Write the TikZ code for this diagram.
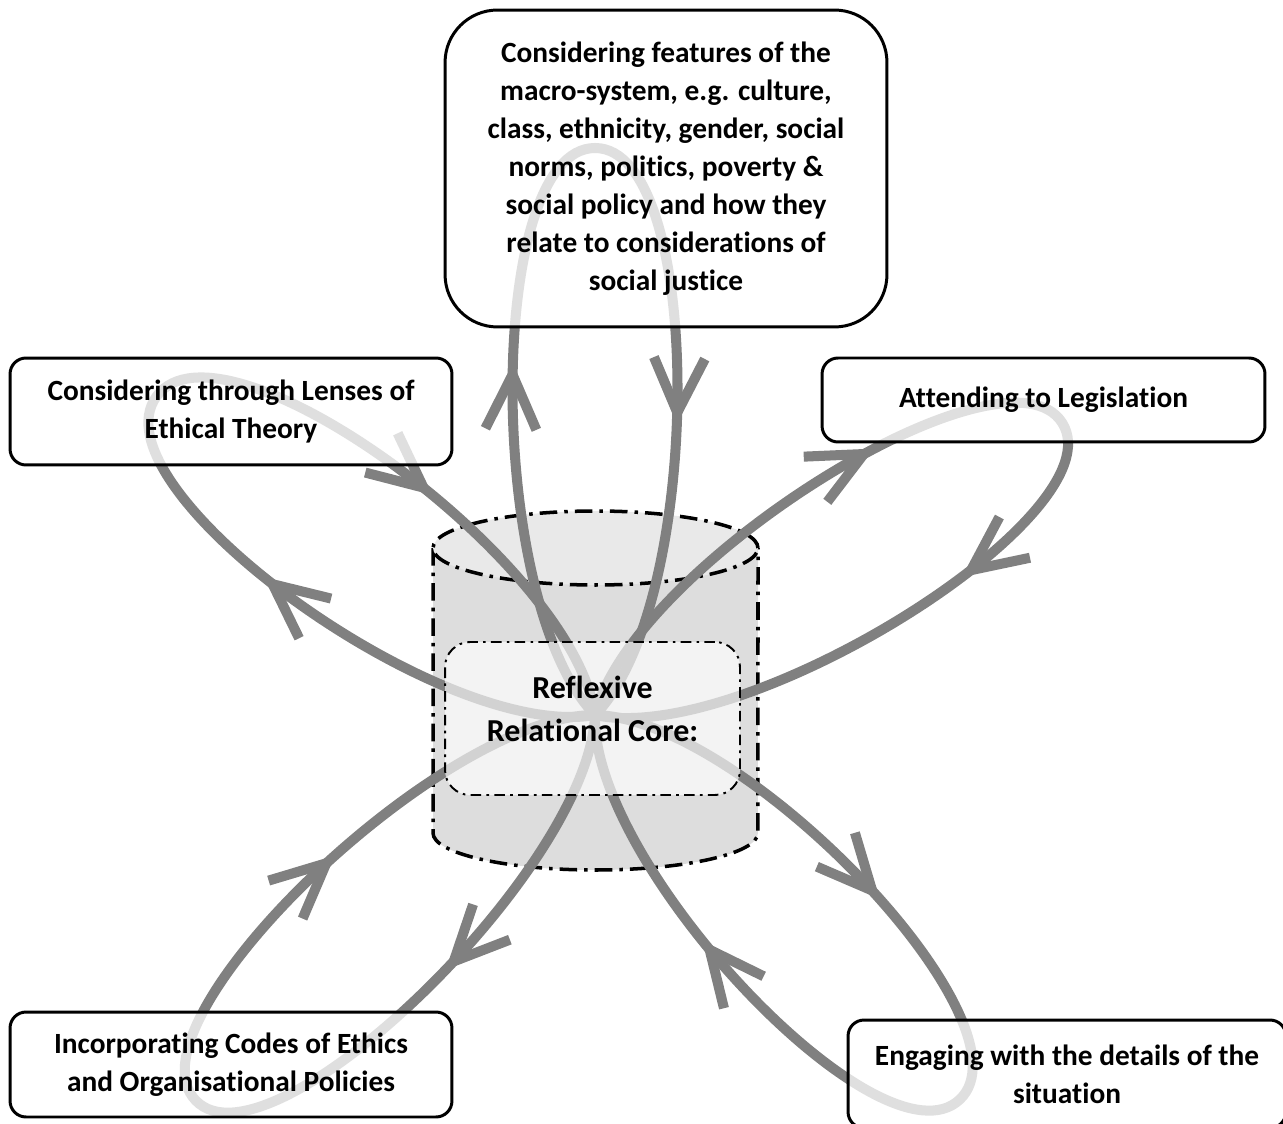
\documentclass[tikz,border=0pt]{standalone}
\usepackage{fontspec}
\setmainfont[Ligatures={NoCommon,NoRare,NoContextual}]{Carlito}
\usepackage{tikz}
\usetikzlibrary{arrows.meta, decorations.markings}
\definecolor{petalgray}{RGB}{128,128,128}
\definecolor{drumside}{RGB}{221,221,221}
\definecolor{drumtop}{RGB}{233,233,233}
\newcommand{\boxfont}{\fontsize{16.7}{21.6}\selectfont\bfseries}

\begin{document}
\begin{tikzpicture}[x=0.02cm, y=-0.02cm,
  every node/.style={font=\boxfont},
  stagebox/.style={draw, line width=1.7pt, rounded corners=0.32cm, fill=white,
    fill opacity=0.75, text opacity=1, align=center, inner sep=0pt},
  corebox/.style={draw, line width=1.1pt, dash pattern=on 6pt off 3pt on 1.5pt off 3pt,
    rounded corners=0.5cm, fill=white, fill opacity=0.65},
  rim/.style={line width=2pt, dash pattern=on 10pt off 4pt on 2pt off 4pt},
  petal/.style 2 args={color=petalgray, line width=5.7pt, postaction={decorate},
    decoration={markings,
      mark=at position #1 with {\arrow{Straight Barb[length=31pt, width=29pt, sharp]}},
      mark=at position #2 with {\arrow{Straight Barb[length=31pt, width=29pt, sharp]}}}}]

  \useasboundingbox (0,0) rectangle (1283,1124);

  % drum behind the core
  \fill[drumside] (433,548) -- (433,833)
    arc[start angle=180, end angle=360, x radius=3.25cm, y radius=0.74cm] -- (758,548) -- cycle;
  \draw[rim] (433,548) -- (433,833)
    arc[start angle=180, end angle=360, x radius=3.25cm, y radius=0.74cm] -- (758,548);
  \draw[rim, fill=drumtop] (595.5,548) ellipse [x radius=3.25cm, y radius=0.74cm];

  \coordinate (hub) at (595,715);

  % feedback petals, all turning clockwise
  \draw[petal={0.30}{0.75}, shift={(hub)}, rotate=90]
    (0,0) .. controls (113,-110) and (567,-110) .. (567,0) .. controls (567,110) and (113,110) .. cycle;
  \draw[petal={0.31}{0.765}, shift={(hub)}, rotate=144]
    (0,0) .. controls (108,-112) and (542,-112) .. (542,0) .. controls (542,112) and (108,112) .. cycle;
  \draw[petal={0.33}{0.665}, shift={(hub)}, rotate=32]
    (0,0) .. controls (110,-107) and (551,-107) .. (551,0) .. controls (551,107) and (110,107) .. cycle;
  \draw[petal={0.25}{0.75}, shift={(hub)}, rotate=224]
    (0,0) .. controls (111,-107) and (555,-107) .. (555,0) .. controls (555,107) and (111,107) .. cycle;
  \draw[petal={0.30}{0.78}, shift={(hub)}, rotate=313.5]
    (0,0) .. controls (106,-107) and (530,-107) .. (530,0) .. controls (530,107) and (106,107) .. cycle;

  % the five stages
  \node[stagebox, rounded corners=1.05cm, minimum width=8.84cm, minimum height=6.34cm] (macro) at (666,168.5)
    {Considering features of the\\macro-system, e.g. culture,\\class, ethnicity, gender, social\\norms, politics, poverty \&\\social policy and how they\\relate to considerations of\\social justice};
  \node[stagebox, minimum width=8.84cm, minimum height=2.14cm] (ethics) at (231,411.5)
    {Considering through Lenses of\\Ethical Theory};
  \node[stagebox, minimum width=8.86cm, minimum height=1.68cm] (legis) at (1043.5,400)
    {Attending to Legislation};
  \node[stagebox, minimum width=8.84cm, minimum height=2.1cm] (codes) at (231,1064.5)
    {Incorporating Codes of Ethics\\and Organisational Policies};
  \node[stagebox, minimum width=8.76cm, minimum height=2.16cm] (engage) at (1067,1074)
    {Engaging with the details of the\\situation};

  % core
  \node[corebox, minimum width=5.9cm, minimum height=3.06cm] (core) at (592.5,718.5) {};
  \node[align=center, font=\fontsize{18.2}{24.5}\selectfont\bfseries] (corelabel)
    at ([yshift=0.2cm]core.center) {Reflexive\\Relational Core:};
\end{tikzpicture}
\end{document}
